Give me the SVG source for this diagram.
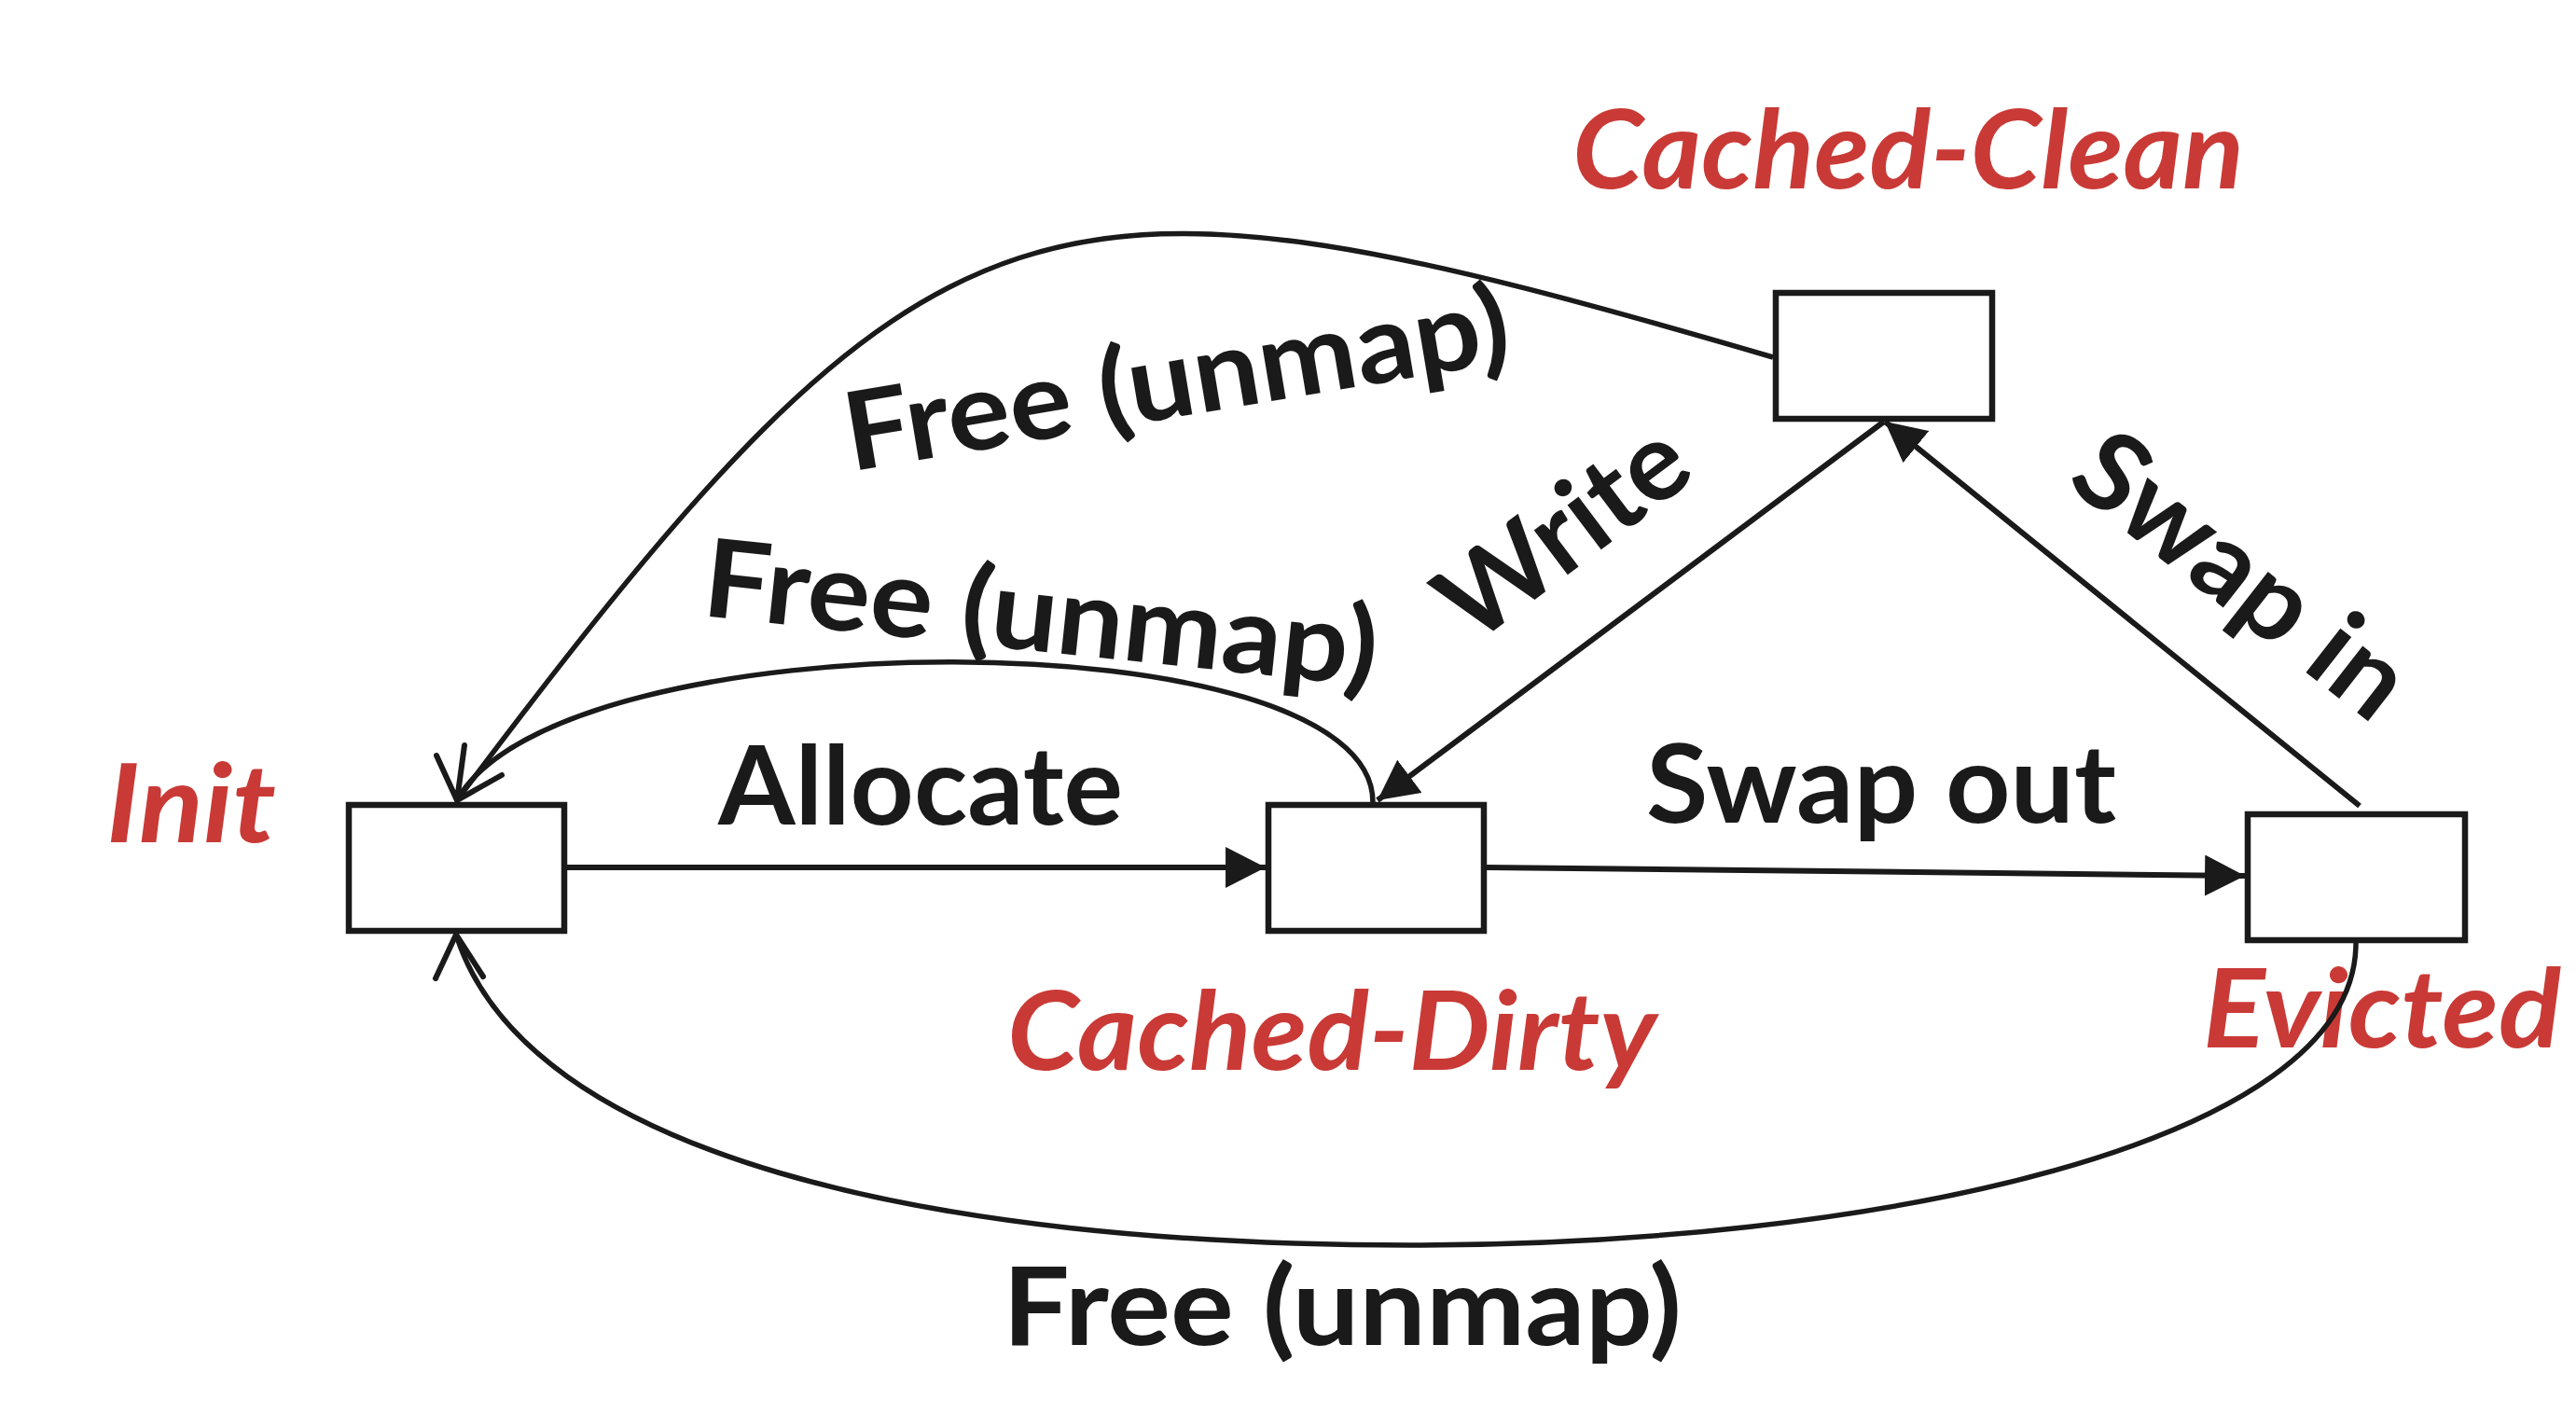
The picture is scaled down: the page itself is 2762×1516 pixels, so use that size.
<svg xmlns="http://www.w3.org/2000/svg" width="2762" height="1516" viewBox="0 0 2762 1516">
<style>
.box{fill:#fff;stroke:#1a1a1a;stroke-width:6.5}
.st{fill:#c93a36;font-family:Lato,"Liberation Sans",sans-serif;font-weight:bold;font-style:italic;font-size:117px}
.lb{fill:#1a1a1a;font-family:Lato,"Liberation Sans",sans-serif;font-weight:bold;font-size:117px}
.ln{fill:none;stroke:#1a1a1a;stroke-width:6}
.cv{fill:none;stroke:#1a1a1a;stroke-width:5.5}
.ah{fill:none;stroke:#1a1a1a;stroke-width:6;stroke-linecap:round}
</style>
<defs>
<marker id="tri" markerUnits="userSpaceOnUse" markerWidth="44" markerHeight="44" refX="41" refY="21" orient="auto" viewBox="0 0 42 42">
<path d="M0,0 L41,21 L0,42 z" fill="#1a1a1a"/>
</marker>
</defs>
<rect width="2762" height="1516" fill="#fff"/>
<g id="init">
<rect class="box" x="374" y="863" width="231" height="135"/>
<text class="st" x="114" y="903" textLength="182" lengthAdjust="spacingAndGlyphs">Init</text>
</g>
<g id="cached-dirty">
<rect class="box" x="1360" y="863" width="231" height="135"/>
<text class="st" x="1080" y="1147" textLength="696" lengthAdjust="spacingAndGlyphs">Cached-Dirty</text>
</g>
<g id="cached-clean">
<rect class="box" x="1904" y="314" width="232" height="135"/>
<text class="st" x="1686" y="202" textLength="720" lengthAdjust="spacingAndGlyphs">Cached-Clean</text>
</g>
<g id="evicted">
<rect class="box" x="2410" y="873" width="233" height="135"/>
<text class="st" x="2362" y="1123" textLength="384" lengthAdjust="spacingAndGlyphs">Evicted</text>
</g>
<g id="connectors">
<path class="ln" d="M608,930 L1357,930" marker-end="url(#tri)"/>
<path class="ln" d="M1594,930 L2407,939" marker-end="url(#tri)"/>
<path class="ln" d="M2020,452 L1477,858" marker-end="url(#tri)"/>
<path class="ln" d="M2530,864 L2021,452" marker-end="url(#tri)"/>
<path class="cv" d="M1901,383 C1114,153 1006,170 490,858"/>
<path class="cv" d="M1472,860 C1472,660 600,660 490,858"/>
<path class="cv" d="M2526,1011 C2526,1230 2000,1335 1512,1335 C1000,1335 564,1240 489,1002"/>
<path class="ah" d="M468,810 L490,858 L538,831 M498,799 L490,858"/>
<path class="ah" d="M467,1049 L489,1002 L518,1047"/>
</g>
<g id="edge-labels">
<text class="lb" x="770" y="884" textLength="434" lengthAdjust="spacingAndGlyphs">Allocate</text>
<text class="lb" x="1765" y="882" textLength="504" lengthAdjust="spacingAndGlyphs">Swap out</text>
<text class="lb" x="1075" y="1442" textLength="728" lengthAdjust="spacingAndGlyphs">Free (unmap)</text>
<text class="lb" text-anchor="middle" transform="translate(1268,446) rotate(-9.5)" textLength="721" lengthAdjust="spacingAndGlyphs">Free (unmap)</text>
<text class="lb" text-anchor="middle" transform="translate(1112,698) rotate(6)" textLength="726" lengthAdjust="spacingAndGlyphs">Free (unmap)</text>
<text class="lb" text-anchor="middle" transform="translate(1700,602) rotate(-37)" textLength="303" lengthAdjust="spacingAndGlyphs">Write</text>
<text class="lb" text-anchor="middle" transform="translate(2379,648) rotate(38)" textLength="420" lengthAdjust="spacingAndGlyphs">Swap in</text>
</g>
</svg>
